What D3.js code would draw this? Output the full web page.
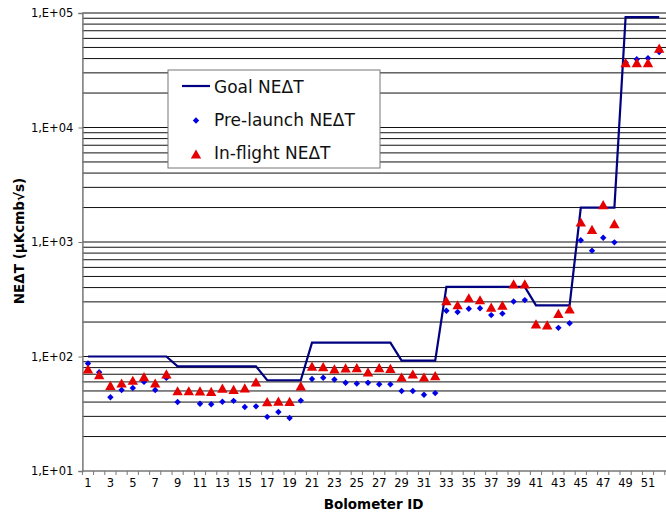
<!DOCTYPE html>
<html>
<head>
<meta charset="utf-8" />
<title>NEΔT per bolometer</title>
<script src="https://cdn.jsdelivr.net/npm/d3@7/dist/d3.min.js"></script>
<style>
body { margin: 0; background: #fff; }
svg { display: block; font-family: "DejaVu Sans", Verdana, sans-serif; }
</style>
</head>
<body>
<div id="chart"></div>
<script>
// bolometer ids 1..52
const ids = d3.range(1, 53);
const xLabels = ids.filter(d => d % 2 === 1);

// goal NEΔT per bolometer
const goal = [100,100,100,100,100,100,100,100, 82,82,82,82,82,82,82,82,
	62,62,62,62, 132,132,132,132,132,132,132,132, 92,92,92,92,
	405,405,405,405,405,405,405,405, 280,280,280,280, 2000,2000,2000,2000,
	92000,92000,92000,92000];

// pre-launch measurements (null = no value)
const preLaunch = [87,73,44,51,53,60,51,65, 40,null,38.7,38.3,40.3,41,36.2,36.7,
	29.7,32.8,29,41.2, 63.6,65.3,63,59,58,59,57.3,57.1, 49.9,49.9,46.3,47.9,
	251,245,261,264,230,237,302,311, null,null,178,195, 1035,840,1090,993,
	37000,39400,40200,45600];

// in-flight measurements
const inFlight = [78,69.3,56,58.7,62,66.6,58.7,70.4, 50.2,50.2,50,49.6,53,51.7,53.3,60,
	40.4,40.8,40.5,55.5, 82.5,81.6,78,79.4,80,73.5,80,78.8, 66.2,70.3,66.2,68,
	307,283,326,313,270,281,430,430, 193,189,238,261, 1495,1291,2117,1445,
	36800,36800,36800,49400];

const yTickValues = [1e1, 1e2, 1e3, 1e4, 1e5];

const width = 666, height = 512;
const margin = {top: 13, right: 1.2, bottom: 41, left: 82.4};

const svg = d3.select("#chart").append("svg")
	.attr("width", width)
	.attr("height", height);

const x = d3.scaleBand().domain(ids).range([margin.left, width - margin.right]);
const y = d3.scaleLog().domain([10, 1e5]).range([height - margin.bottom, margin.top]);

// gridlines at every log tick
const gridVals = [];
for (let e = 1; e < 5; e++) for (let m = 1; m < 10; m++) gridVals.push(m * Math.pow(10, e));
gridVals.push(1e5);

svg.append("g").selectAll("line")
	.data(gridVals.filter(v => v > 10))
	.join("line")
	.attr("x1", margin.left).attr("x2", width)
	.attr("y1", d => y(d)).attr("y2", d => y(d))
	.attr("stroke", "#111").attr("stroke-width", 1);

// y axis
const yAxis = d3.axisLeft(y)
	.tickValues(yTickValues)
	.tickSize(4)
	.tickFormat(d => "1,E+" + d3.format("02d")(Math.round(Math.log10(d))));
const gy = svg.append("g")
	.attr("transform", "translate(" + margin.left + ",0)")
	.call(yAxis);
gy.select(".domain").attr("stroke", "#777").attr("stroke-width", 1.5);
gy.selectAll(".tick line").attr("stroke", "#777");
gy.selectAll(".tick text").attr("font-size", "11.5px").attr("fill", "#000")
	.attr("x", -9).attr("font-family", "DejaVu Sans, sans-serif");

// x axis: labels on odd ids, ticks on category boundaries
const xAxis = d3.axisBottom(x).tickValues(xLabels).tickSize(0).tickPadding(8);
const gx = svg.append("g")
	.attr("transform", "translate(0," + (height - margin.bottom) + ")")
	.call(xAxis);
gx.select(".domain").remove();
gx.selectAll(".tick text").attr("font-size", "11.5px").attr("fill", "#000")
	.attr("font-family", "DejaVu Sans, sans-serif");

const bounds = ids.map(d => x(d)).concat([x(52) + x.bandwidth()]);
svg.append("g").selectAll("line")
	.data(bounds)
	.join("line")
	.attr("x1", d => d).attr("x2", d => d)
	.attr("y1", height - margin.bottom).attr("y2", height - margin.bottom + 4)
	.attr("stroke", "#777");
svg.append("line")
	.attr("x1", margin.left).attr("x2", width)
	.attr("y1", height - margin.bottom).attr("y2", height - margin.bottom)
	.attr("stroke", "#777").attr("stroke-width", 1.5);

const cx = d => x(d) + x.bandwidth() / 2;

// goal line
svg.append("path")
	.datum(ids)
	.attr("fill", "none")
	.attr("stroke", "#000080")
	.attr("stroke-width", 2.2)
	.attr("d", d3.line().x(cx).y((d, i) => y(goal[i])));

const diamond = "M0,-3.2L3.2,0L0,3.2L-3.2,0Z";
const triangle = "M0,-4.6L5.2,4.6L-5.2,4.6Z";

svg.append("g").selectAll("path")
	.data(ids.filter((d, i) => preLaunch[i] != null))
	.join("path")
	.attr("d", diamond)
	.attr("fill", "#0000e6")
	.attr("transform", d => "translate(" + cx(d) + "," + y(preLaunch[d - 1]) + ")");

svg.append("g").selectAll("path")
	.data(ids)
	.join("path")
	.attr("d", triangle)
	.attr("fill", "#e60000")
	.attr("transform", d => "translate(" + cx(d) + "," + y(inFlight[d - 1]) + ")");

// axis titles
svg.append("text")
	.attr("x", x(26) + x.bandwidth())
	.attr("y", 509)
	.attr("text-anchor", "middle")
	.attr("font-weight", "bold")
	.attr("font-size", "13.5px")
	.text("Bolometer ID");

svg.append("text")
	.attr("transform", "translate(24,241) rotate(-90)")
	.attr("text-anchor", "middle")
	.attr("font-weight", "bold")
	.attr("font-size", "13.5px")
	.text("NEΔT (µKcmb√s)");

// legend
const legend = svg.append("g");
legend.append("rect")
	.attr("x", 168).attr("y", 70).attr("width", 212).attr("height", 98)
	.attr("fill", "#fff").attr("stroke", "#777").attr("stroke-width", 1);
legend.append("line")
	.attr("x1", 182).attr("x2", 210).attr("y1", 86).attr("y2", 86)
	.attr("stroke", "#000080").attr("stroke-width", 2.2);
legend.append("path").attr("d", diamond).attr("fill", "#0000e6")
	.attr("transform", "translate(196,120.5)");
legend.append("path").attr("d", triangle).attr("fill", "#e60000")
	.attr("transform", "translate(196,154)");
const legendNames = ["Goal NEΔT", "Pre-launch NEΔT", "In-flight NEΔT"];
legend.selectAll("text.lab")
	.data(legendNames)
	.join("text")
	.attr("class", "lab")
	.attr("x", 214)
	.attr("y", (d, i) => 92.5 + i * 33)
	.attr("font-size", "17px")
	.attr("fill", "#111")
	.text(d => d);
</script>
</body>
</html>
